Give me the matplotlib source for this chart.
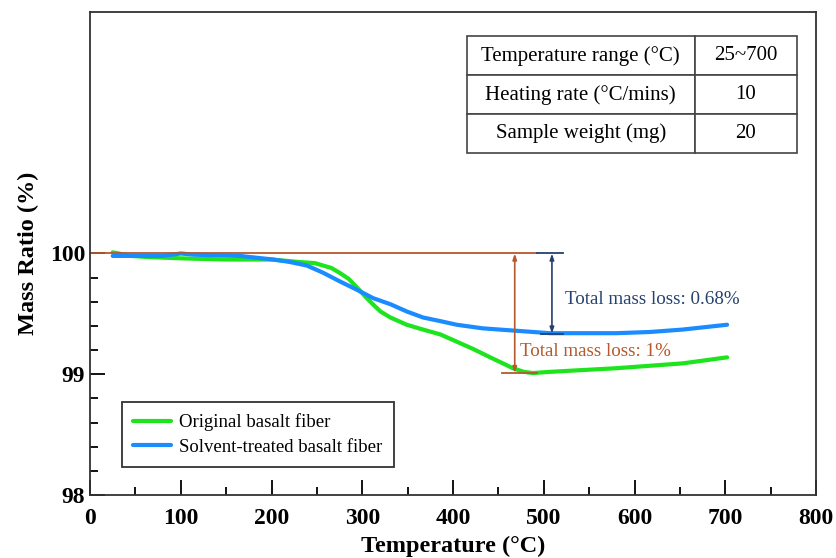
import numpy as np
import matplotlib
matplotlib.use('Agg')
import matplotlib.pyplot as plt
from matplotlib.ticker import MultipleLocator, FixedLocator

plt.rcParams['font.family'] = ['Liberation Serif', 'DejaVu Serif']

# TGA curves
temp_orig = [25, 45, 66, 100, 150, 200, 230, 248, 257, 266, 275, 285, 294, 305,
             313, 320, 331, 349, 367, 386, 404, 422, 441, 455, 466, 478, 488,
             507, 580, 653, 702]
mass_orig = [100.01, 99.98, 99.97, 99.96, 99.95, 99.95, 99.93, 99.92, 99.90, 99.88,
             99.84, 99.79, 99.72, 99.63, 99.57, 99.52, 99.47, 99.41, 99.37, 99.33,
             99.27, 99.21, 99.14, 99.09, 99.05, 99.02, 99.01, 99.02, 99.05, 99.09,
             99.14]

temp_solv = [25, 50, 80, 100, 115, 165, 202, 220, 239, 257, 275, 294, 312, 331,
             349, 367, 386, 404, 433, 470, 507, 543, 580, 617, 653, 702]
mass_solv = [99.98, 99.98, 99.98, 100.00, 99.99, 99.98, 99.95, 99.93, 99.90, 99.84,
             99.77, 99.70, 99.63, 99.58, 99.52, 99.47, 99.44, 99.41, 99.38, 99.36,
             99.34, 99.34, 99.34, 99.35, 99.37, 99.41]

labels = ['Original basalt fiber', 'Solvent-treated basalt fiber']
table_rows = [['Temperature range (\u00b0C)', '25~700'],
              ['Heating rate (\u00b0C/mins)', '10'],
              ['Sample weight (mg)', '20']]

loss_orig = 1.0
loss_solv = 0.68

green = '#1de41d'
blue = '#1a8cff'
brown = '#b5582c'
navy = '#24416f'

fig = plt.figure(figsize=(8.36, 5.58), dpi=100)
ax = fig.add_axes([0.1077, 0.1129, 0.8684, 0.8656])

ax.plot(temp_orig, mass_orig, color=green, lw=3, label=labels[0],
        solid_joinstyle='round', solid_capstyle='round')
ax.plot(temp_solv, mass_solv, color=blue, lw=3, label=labels[1],
        solid_joinstyle='round', solid_capstyle='round')

# reference line and mass-loss arrows
ax.plot([0, 492], [100, 100], color=brown, lw=1.3)
ax.plot([492, 521], [100, 100], color=navy, lw=1.3)
y_orig_min = 100 - loss_orig * 0.99
y_solv_min = 100 - loss_solv * 0.975
ax.plot([454, 492], [y_orig_min, y_orig_min], color=brown, lw=1.3)
ax.plot([497, 521], [y_solv_min, y_solv_min], color=navy, lw=1.3)
ax.annotate('', xy=(468, y_orig_min), xytext=(468, 100),
            arrowprops=dict(arrowstyle='<|-|>,head_length=0.35,head_width=0.12',
                            color=brown, lw=1.2, shrinkA=0, shrinkB=0))
ax.annotate('', xy=(509, y_solv_min), xytext=(509, 100),
            arrowprops=dict(arrowstyle='<|-|>,head_length=0.35,head_width=0.12',
                            color=navy, lw=1.2, shrinkA=0, shrinkB=0))
ax.text(523, 99.62, 'Total mass loss: %.2f%%' % loss_solv, color=navy,
        fontsize=13.7, va='center', ha='left')
ax.text(474, 99.19, 'Total mass loss: %d%%' % loss_orig, color=brown,
        fontsize=13.7, va='center', ha='left')

ax.set_xlim(0, 800)
ax.set_ylim(98, 102)
ax.xaxis.set_major_locator(MultipleLocator(100))
ax.xaxis.set_minor_locator(MultipleLocator(50))
ax.yaxis.set_major_locator(FixedLocator([98, 99, 100]))
ax.yaxis.set_minor_locator(FixedLocator(list(np.arange(98.2, 100, 0.2))))
ax.tick_params(which='both', direction='in', top=False, right=False,
               width=1.3, labelsize=17)
ax.tick_params(axis='x', pad=9)
ax.tick_params(which='major', length=11)
ax.tick_params(which='minor', length=6)
for lab in ax.get_xticklabels() + ax.get_yticklabels():
    lab.set_fontweight('bold')
for s in ax.spines.values():
    s.set_linewidth(1.3)
    s.set_color('#333333')

ax.set_xlabel('Temperature (\u00b0C)', fontsize=17.5, fontweight='bold', labelpad=5)
ax.set_ylabel('Mass Ratio (%)', fontsize=17.5, fontweight='bold', labelpad=8)

leg = ax.legend(loc='lower left', bbox_to_anchor=(0.044, 0.058), borderaxespad=0,
                fontsize=13.5, fancybox=False, edgecolor='#333333', framealpha=1,
                handlelength=2.0, handletextpad=0.45, borderpad=0.6,
                labelspacing=0.4)
leg.get_frame().set_linewidth(1.3)

tbl = ax.table(cellText=table_rows, cellLoc='center',
               colWidths=[0.69, 0.31], bbox=[0.519, 0.708, 0.455, 0.242])
tbl.auto_set_font_size(False)
tbl.set_fontsize(15)
for cell in tbl.get_celld().values():
    cell.set_edgecolor('#444444')
    cell.set_linewidth(1.2)

fig.savefig('out.png', dpi=100)
